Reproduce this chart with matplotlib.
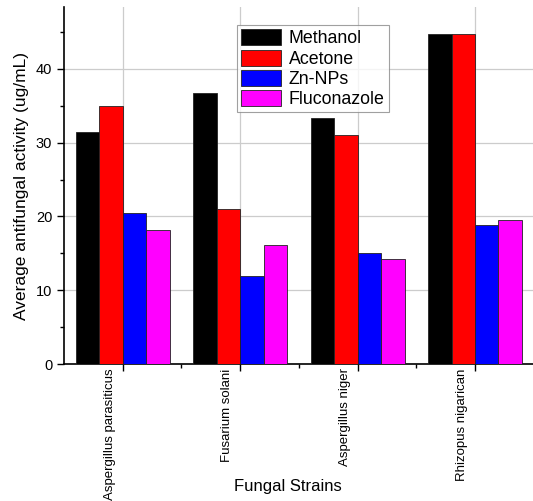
import matplotlib
matplotlib.use("Agg")
import matplotlib.pyplot as plt
import matplotlib.transforms as mtrans
from matplotlib.ticker import MultipleLocator, FixedLocator
import numpy as np

plt.rcParams['font.family'] = ['Liberation Sans', 'DejaVu Sans']

categories = ["Aspergillus parasiticus", "Fusarium solani", "Aspergillus niger", "Rhizopus nigarican"]
series_names = ["Methanol", "Acetone", "Zn-NPs", "Fluconazole"]
methanol = [31.5, 36.7, 33.4, 44.8]
acetone = [35.0, 21.0, 31.0, 44.7]
znnps = [20.5, 11.9, 15.0, 18.8]
fluconazole = [18.1, 16.1, 14.2, 19.5]
colors = ["#000000", "#ff0000", "#0000ff", "#ff00ff"]

fig = plt.figure(figsize=(5.33, 5.01), dpi=100)
ax = fig.add_axes([64/533, 1-364/501, (533.7-64)/533, (364-7)/501])

x = np.arange(len(categories))
w = 0.2
for i, (vals, name, c) in enumerate(zip([methanol, acetone, znnps, fluconazole], series_names, colors)):
    ax.bar(x + (i - 1.5) * w, vals, width=w, color=c, edgecolor="#222222", linewidth=0.6,
           label=name, zorder=3)

ax.set_xlim(-0.5, 3.5)
ax.set_ylim(0, 48.4)
ax.yaxis.set_major_locator(MultipleLocator(10))
ax.yaxis.set_minor_locator(MultipleLocator(5))
ax.set_xticks(x)
ax.set_xticklabels([""] * len(categories))
ax.xaxis.set_minor_locator(FixedLocator([0.5, 1.5, 2.5]))

# rotated category labels, shifted slightly left of their ticks
trans = mtrans.blended_transform_factory(ax.transData, ax.transAxes)
for xi, name in zip(x, categories):
    ax.text(xi - 0.11, -0.012, name, rotation=90, ha="center", va="top",
            fontsize=9.5, transform=trans)

ax.tick_params(axis="both", which="major", direction="out", length=5, width=1, labelsize=10.5)
ax.tick_params(axis="both", which="minor", direction="out", length=3, width=1)
ax.grid(True, which="major", color="#cccccc", linewidth=0.9, zorder=0)
ax.set_axisbelow(True)
for s in ["top", "right"]:
    ax.spines[s].set_visible(False)
ax.spines["left"].set_linewidth(1.2)
ax.spines["bottom"].set_linewidth(1.2)

ax.set_ylabel("Average antifungal activity (ug/mL)", fontsize=12.5, labelpad=5)
fig.text(288/533, 1-487/501, "Fungal Strains", fontsize=12, ha="center", va="center")

leg = ax.legend(loc="upper left", bbox_to_anchor=((237-64)/469.7, (364-25)/357), fontsize=12.8,
                handlelength=2.2, handleheight=1.0, handletextpad=0.45, labelspacing=0.12,
                borderpad=0.25, borderaxespad=0, frameon=True, fancybox=False, edgecolor="#888888")
leg.get_frame().set_linewidth(0.8)

fig.savefig("out.png", dpi=100)
